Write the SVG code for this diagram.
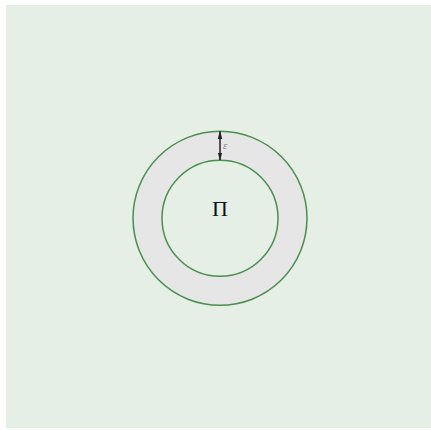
<svg xmlns="http://www.w3.org/2000/svg" width="431" height="430" viewBox="0 0 431 430">
  <style>
    .ring { stroke: #4b8f4e; stroke-width: 1.5; }
    .dim { stroke: #222; stroke-width: 1.5; fill: none; }
  </style>
  <defs>
    <marker id="ah" viewBox="0 0 10 10" refX="9" refY="5" markerWidth="5.5" markerHeight="5.5" orient="auto-start-reverse">
      <path d="M0,2.3 L10,5 L0,7.7 z" fill="#222"/>
    </marker>
  </defs>
  <rect x="0" y="0" width="431" height="430" fill="#ffffff"/>
  <rect x="6" y="5" width="425" height="423" fill="#e5efe6"/>
  <g id="outer">
    <circle class="ring" cx="220" cy="218.3" r="87" fill="#e6e6e6"/>
  </g>
  <g id="inner">
    <circle class="ring" cx="220" cy="218.3" r="58" fill="#e5efe6"/>
    <text x="220" y="215.5" font-family="Liberation Serif, serif" font-size="22" text-anchor="middle" fill="#111">Π</text>
  </g>
  <g id="connectors">
    <line class="dim" x1="220" y1="131.5" x2="220" y2="160" marker-start="url(#ah)" marker-end="url(#ah)"/>
    <text x="223" y="149" font-family="Liberation Serif, serif" font-style="italic" font-size="11" fill="#888">ε</text>
  </g>
</svg>
